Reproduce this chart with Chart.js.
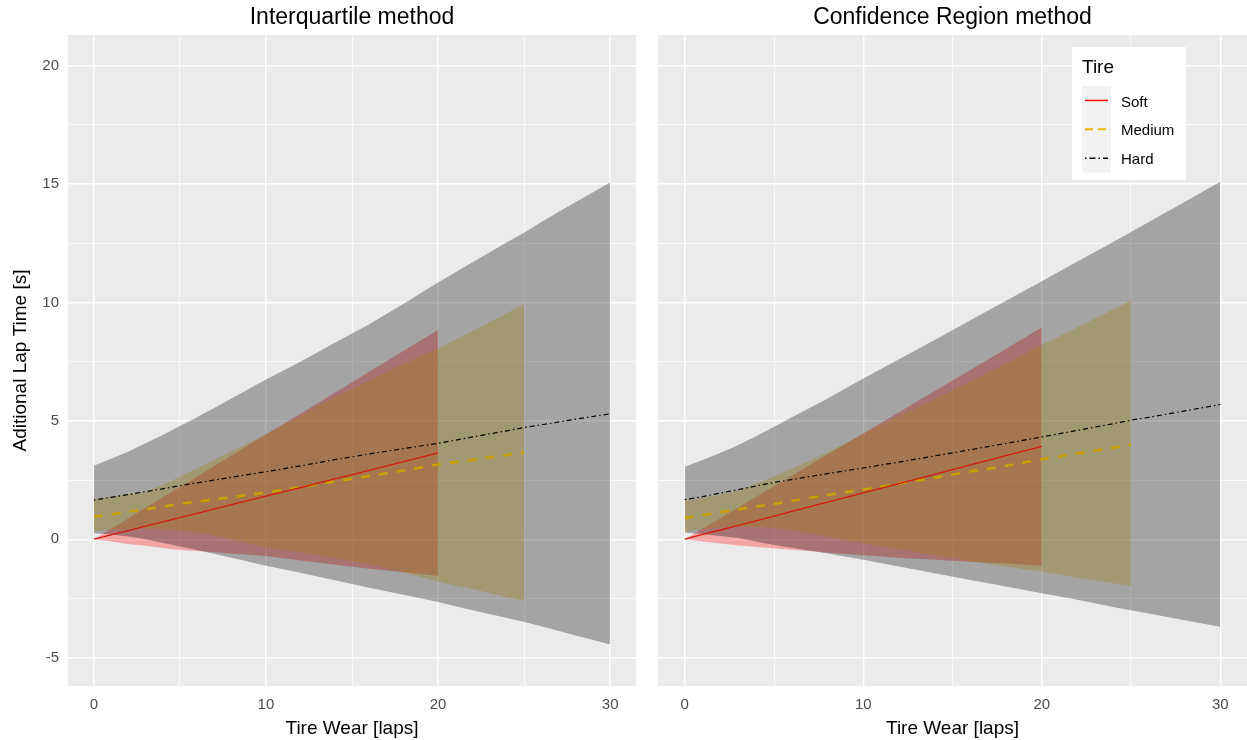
<!DOCTYPE html>
<html><head><meta charset="utf-8">
<script src="https://cdn.jsdelivr.net/npm/chart.js@4.4.1/dist/chart.umd.min.js"></script>
<style>
html,body{margin:0;padding:0;background:#fff;}
#wrap{position:relative;width:1247px;height:740px;overflow:hidden;background:#fff;}
canvas{position:absolute;top:0;}
#c1{left:0;} #c2{left:646px;}
</style></head><body>
<div id="wrap"><canvas id="c1" width="646" height="740"></canvas><canvas id="c2" width="601" height="740"></canvas></div>
<script>
// ---------- data ----------
const laps = [0,1,2,3,4,5,6,8,10,12,14,16,18,20,22,24,25,26,28,30];
const panelTitles = ['Interquartile method', 'Confidence Region method'];
const tireNames = ['Soft', 'Medium', 'Hard'];
const xTickValues = [0,5,10,15,20,25,30];
const yTickValues = [-5,-2.5,0,2.5,5,7.5,10,12.5,15,17.5,20];
const xAxisTitle = 'Tire Wear [laps]';
const yAxisTitle = 'Aditional Lap Time [s]';
const legendTitle = 'Tire';

// Interquartile method
const iqSoftLine = [0,0.18,0.36,0.55,0.73,0.91,1.09,1.46,1.82,2.18,2.55,2.91,3.28,3.65];
const iqSoftLo   = [0,-0.1,-0.2,-0.28,-0.37,-0.45,-0.5,-0.6,-0.71,-0.9,-1.08,-1.25,-1.4,-1.55];
const iqSoftHi   = [0,0.44,0.88,1.33,1.77,2.21,2.65,3.54,4.42,5.3,6.19,7.07,7.96,8.84];
const iqMedLine  = [0.95,1.05,1.16,1.27,1.38,1.49,1.59,1.78,1.97,2.2,2.44,2.67,2.9,3.16,3.35,3.56,3.66];
const iqMedLo    = [0.33,0.4,0.45,0.45,0.42,0.38,0.3,0.0,-0.35,-0.55,-0.8,-1.05,-1.4,-1.8,-2.1,-2.45,-2.6];
const iqMedHi    = [1.7,1.8,1.9,2.0,2.3,2.64,3.0,3.73,4.45,5.2,6.0,6.7,7.4,8.06,8.8,9.55,9.95];
const iqHardLine = [1.65,1.77,1.89,2.01,2.13,2.26,2.38,2.62,2.85,3.1,3.36,3.6,3.83,4.05,4.32,4.58,4.72,4.83,5.07,5.3];
const iqHardLo   = [0.25,0.2,0.12,0.0,-0.15,-0.31,-0.45,-0.78,-1.12,-1.42,-1.73,-2.05,-2.35,-2.65,-3.0,-3.33,-3.5,-3.68,-4.07,-4.45];
const iqHardHi   = [3.1,3.4,3.7,4.05,4.4,4.78,5.15,5.95,6.75,7.5,8.3,9.08,9.95,10.85,11.7,12.55,12.95,13.4,14.25,15.07];

// Confidence Region method
const crSoftLine = [0,0.2,0.39,0.59,0.78,0.98,1.18,1.57,1.96,2.35,2.74,3.14,3.53,3.92];
const crSoftLo   = [0,-0.1,-0.18,-0.26,-0.33,-0.38,-0.44,-0.56,-0.68,-0.78,-0.87,-0.95,-1.03,-1.12];
const crSoftHi   = [0,0.45,0.89,1.34,1.79,2.24,2.68,3.58,4.47,5.36,6.26,7.15,8.05,8.94];
const crMedLine  = [0.9,1.02,1.14,1.26,1.38,1.49,1.62,1.87,2.1,2.35,2.6,2.86,3.1,3.38,3.62,3.87,4.0];
const crMedLo    = [0.32,0.42,0.5,0.53,0.52,0.48,0.38,0.12,-0.17,-0.42,-0.68,-0.93,-1.15,-1.37,-1.62,-1.86,-1.98];
const crMedHi    = [1.62,1.75,1.88,2.05,2.35,2.65,2.98,3.67,4.45,5.2,5.92,6.65,7.42,8.2,8.95,9.7,10.1];
const crHardLine = [1.67,1.8,1.95,2.1,2.25,2.4,2.52,2.77,3.01,3.26,3.52,3.78,4.05,4.32,4.6,4.88,5.03,5.15,5.42,5.69];
const crHardLo   = [0.28,0.22,0.14,0.05,-0.1,-0.24,-0.36,-0.6,-0.87,-1.15,-1.44,-1.72,-2.0,-2.28,-2.56,-2.86,-3.0,-3.14,-3.42,-3.7];
const crHardHi   = [3.06,3.35,3.65,3.98,4.35,4.75,5.15,5.95,6.79,7.6,8.42,9.25,10.07,10.9,11.73,12.56,12.98,13.4,14.25,15.1];

// ---------- styling ----------
const FONT = "'Liberation Sans', Arial, 'DejaVu Sans', sans-serif";
Chart.defaults.font.family = FONT;
const lineColors = {Soft:'rgb(215,25,10)', Medium:'rgb(200,160,0)', Hard:'#000'};
const keyColors  = {Soft:'#FF0000', Medium:'#E6B800', Hard:'#000'};
const fillColors = {Soft:'rgba(255,0,0,0.3)', Medium:'rgba(230,184,0,0.3)', Hard:'rgba(0,0,0,0.3)'};
const dashes = {Soft:[], Medium:[9,9], Hard:[1.5,3,5,3]};
const widths = {Soft:1.3, Medium:2.6, Hard:1.2};

const pts = arr => arr.map((v,i)=>({x:laps[i], y:v}));

function buildDatasets(s) {
  const ds = [];
  tireNames.forEach(t => {
    ds.push({label:t, data:pts(s[t].line), borderColor:lineColors[t], borderWidth:widths[t],
      borderDash:dashes[t], pointRadius:0, fill:false, tension:0, order:0});
  });
  const ribOrder = {Hard:1, Medium:2, Soft:3};
  tireNames.forEach(t => {
    ds.push({label:t+' lo', data:pts(s[t].lo), borderWidth:0, pointRadius:0, fill:false, order:ribOrder[t]});
    ds.push({label:t+' hi', data:pts(s[t].hi), borderWidth:0, pointRadius:0, fill:'-1',
      backgroundColor:fillColors[t], order:ribOrder[t]});
  });
  return ds;
}

const panelBg = {
  id:'panelBg',
  beforeDraw(chart){
    const {ctx, chartArea:a} = chart;
    ctx.save(); ctx.fillStyle='#EBEBEB';
    ctx.fillRect(a.left, a.top, a.right-a.left, a.bottom-a.top); ctx.restore();
  }
};
const panelTitle = {
  id:'panelTitle',
  afterDraw(chart, args, opts){
    const {ctx, chartArea:a} = chart;
    ctx.save(); ctx.fillStyle='#000'; ctx.font='23px '+FONT;
    ctx.textAlign='center'; ctx.textBaseline='middle';
    ctx.fillText(opts.text, (a.left+a.right)/2, 18); ctx.restore();
  }
};
const legendPlugin = {
  id:'ggLegend',
  afterDraw(chart, args, opts){
    if(!opts.show) return;
    const ctx = chart.ctx;
    const bx = 426, by = 47, bw = 114, bh = 133;
    ctx.save();
    ctx.fillStyle='#fff'; ctx.fillRect(bx,by,bw,bh);
    ctx.fillStyle='#000'; ctx.font='19px '+FONT; ctx.textBaseline='middle'; ctx.textAlign='left';
    ctx.fillText(legendTitle, 436, 68);
    const kx = 436, ky = 86, kh = 28.9, kw = 29;
    ctx.fillStyle='#F2F2F2'; ctx.fillRect(kx, ky, kw, kh*3);
    tireNames.forEach((t,i)=>{
      const cy = ky + kh*i + kh/2;
      ctx.beginPath(); ctx.strokeStyle=keyColors[t]; ctx.lineWidth = t==='Medium'?2:1.5;
      ctx.setLineDash(t==='Soft'?[]:(t==='Medium'?[8,5]:[1.5,3,6,3]));
      ctx.moveTo(kx+3, cy); ctx.lineTo(kx+kw-3, cy); ctx.stroke();
      ctx.setLineDash([]);
      ctx.fillStyle='#000'; ctx.font='15px '+FONT;
      ctx.fillText(t, 475, cy+2);
    });
    ctx.restore();
  }
};

function makeChart(canvasId, series, idx) {
  const first = idx===0;
  const gridW = (major) => ctx => (ctx.tick && Math.abs(ctx.tick.value % major) < 1e-9) ? 1.4 : 0.7;
  return new Chart(document.getElementById(canvasId), {
    type:'line',
    data:{datasets:buildDatasets(series)},
    options:{
      responsive:false, maintainAspectRatio:false, animation:false,
      layout:{padding:{top:35, right:first?10:0, bottom:0, left:0}},
      plugins:{legend:{display:false}, tooltip:{enabled:false},
        panelTitle:{text:panelTitles[idx]}, ggLegend:{show:!first}},
      scales:{
        x:{type:'linear', min:-1.5, max:31.5,
          afterBuildTicks: s => { s.ticks = xTickValues.map(v=>({value:v})); },
          afterFit: s => { s.height = 54; },
          ticks:{autoSkip:false, maxRotation:0, padding:10, color:'#4D4D4D', font:{size:15},
            callback: v => (v % 10 === 0) ? String(v) : ''},
          grid:{color:'#FFFFFF', lineWidth:gridW(10), drawTicks:false},
          border:{display:false},
          title:{display:true, text:xAxisTitle, color:'#000', font:{size:19}, padding:{top:0, bottom:0}}
        },
        y:{type:'linear', min:-6.2, max:21.3,
          afterBuildTicks: s => { s.ticks = yTickValues.map(v=>({value:v})); },
          afterFit: s => { s.width = first ? 68 : 12; },
          ticks:{display:first, autoSkip:false, padding:9, color:'#4D4D4D', font:{size:15},
            callback: v => (v % 5 === 0) ? String(v) : ''},
          grid:{color:'#FFFFFF', lineWidth:gridW(5), drawTicks:false},
          border:{display:false},
          title:{display:first, text:yAxisTitle, color:'#000', font:{size:19}, padding:{top:9, bottom:0}}
        }
      }
    },
    plugins:[panelBg, panelTitle, legendPlugin]
  });
}

makeChart('c1', {
  Soft:{line:iqSoftLine, lo:iqSoftLo, hi:iqSoftHi},
  Medium:{line:iqMedLine, lo:iqMedLo, hi:iqMedHi},
  Hard:{line:iqHardLine, lo:iqHardLo, hi:iqHardHi}
}, 0);
makeChart('c2', {
  Soft:{line:crSoftLine, lo:crSoftLo, hi:crSoftHi},
  Medium:{line:crMedLine, lo:crMedLo, hi:crMedHi},
  Hard:{line:crHardLine, lo:crHardLo, hi:crHardHi}
}, 1);
</script>
</body></html>
